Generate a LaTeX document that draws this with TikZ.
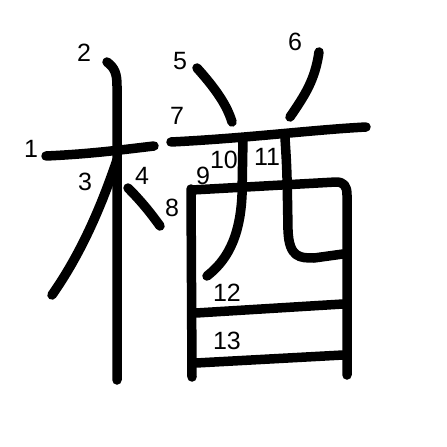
\documentclass[tikz,border=0pt]{standalone}
\usepackage{fontspec}
\setmainfont{Liberation Sans}
\usetikzlibrary{positioning}

\begin{document}
\begin{tikzpicture}[
    x=1pt, y=-1pt,
    stroke/.style={line width=9.5pt, line cap=round, line join=round},
    num/.style={font=\fontsize{25}{25}\selectfont, inner sep=0pt}
]
    \useasboundingbox (0,0) rectangle (447,447);

    % Left radical
    \draw[stroke] (46,156) .. controls (90,154) and (120,150) .. (154,146);
    \draw[stroke] (107,62) .. controls (115,68) and (117,74) .. (117,86) -- (117,380);
    \draw[stroke] (117,160) .. controls (100,210) and (80,255) .. (52,295);
    \draw[stroke] (128,188) .. controls (140,200) and (150,212) .. (160,226);

    % Top strokes
    \draw[stroke] (197,68) .. controls (215,88) and (227,105) .. (232,122);
    \draw[stroke] (319,52) .. controls (315,80) and (305,95) .. (290,117);
    \draw[stroke] (171,142) .. controls (250,138) and (310,130) .. (366,127);

    % Box
    \draw[stroke] (191,189) -- (192,377);
    \draw[stroke] (192,190) -- (336,182) .. controls (344,182) and (347,186) .. (347,195) -- (347,375);
    \draw[stroke] (243,138) -- (242,195) .. controls (240,240) and (225,262) .. (207,276);
    \draw[stroke] (285,138) .. controls (287,170) .. (288,230) .. controls (289,258) and (300,258) .. (314,258) -- (343,254);
    \draw[stroke] (196,313) -- (343,304);
    \draw[stroke] (196,363) -- (343,355);

    % Stroke numbers
    \node[num] (n1) at (31,149) {1};
    \node[num] (n2) at (84,53) {2};
    \node[num] (n3) at (85,182) {3};
    \node[num] (n4) at (142,176) {4};
    \node[num] (n5) at (180,61) {5};
    \node[num] (n6) at (295,42) {6};
    \node[num] (n7) at (177,116) {7};
    \node[num] (n8) at (172,208) {8};
    \node[num] (n9) at (203,176) {9};
    \node[num] (n10) at (224,160) {10};
    \node[num] (n11) at (267,157) {11};
    \node[num] (n12) at (227,293) {12};
    \node[num] (n13) at (227,341) {13};
\end{tikzpicture}
\end{document}
